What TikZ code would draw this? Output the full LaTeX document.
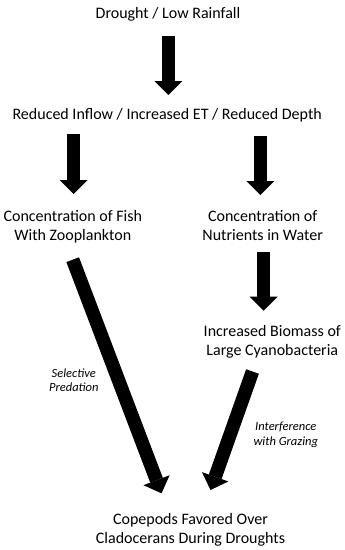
\documentclass[tikz,border=0pt]{standalone}
\usepackage{fontspec}
\setmainfont{Carlito}
\usetikzlibrary{arrows.meta,calc}
\tikzset{
  lbl/.style={inner sep=0pt,align=center,anchor=base,font=\fontsize{16}{19}\selectfont},
  note/.style={inner sep=0pt,align=center,anchor=base,font=\fontsize{12.5}{14.5}\selectfont\itshape},
  fat/.style={line width=13.5pt,-{Triangle[length=14pt,width=28pt,line width=0pt]}},
}

\begin{document}
\begin{tikzpicture}[x=1pt,y=1pt]
  \useasboundingbox (0,0) rectangle (345,-550);
  \node[lbl] (drought) at (168,-18.5) {Drought / Low Rainfall};
  \node[lbl] (reduced) at (167.2,-119.5) {Reduced Inflow / Increased ET / Reduced Depth};
  \node[lbl] (fish) at (72.8,-240) {Concentration of Fish\\With Zooplankton};
  \node[lbl] (nutr) at (262.7,-240) {Concentration of\\Nutrients in Water};
  \node[lbl] (biomass) at (272.3,-355) {Increased Biomass of\\Large Cyanobacteria};
  \node[lbl] (copepods) at (190.5,-543.3) {Copepods Favored Over\\Cladocerans During Droughts};
  \node[note] (predlbl) at (73.8,-391.7) {Selective\\Predation};
  \node[note] (grazlbl) at (285.8,-445) {Interference\\with Grazing};

  \draw[fat] ($(drought.base)+(0.3,-17.5)$) -- ($(reduced.base)+(1.1,24.5)$);
  \draw[fat] ($(reduced.base -| fish.base)+(0.9,-14.5)$) -- ($(fish.base)+(0.9,46)$);
  \draw[fat] ($(reduced.base -| nutr.base)+(-2.4,-16.5)$) -- ($(nutr.base)+(-2.4,45)$);
  \draw[fat] ($(nutr.base)+(1,-11.7)$) -- ($(biomass.base -| nutr.base)+(1,44.3)$);
  \draw[fat] ($(fish.base)+(-0.1,-19.7)$) -- ($(copepods.base)+(-29,50)$);
  \draw[fat] ($(biomass.base)+(-19.8,-16.5)$) -- ($(copepods.base)+(20,53.3)$);
\end{tikzpicture}
\end{document}
